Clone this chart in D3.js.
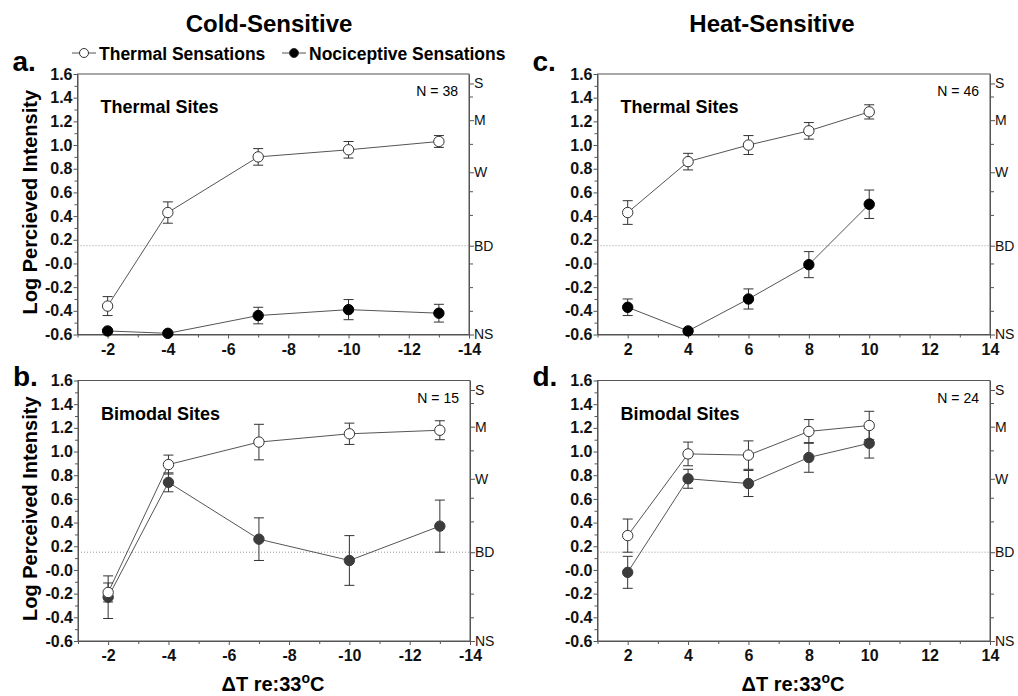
<!DOCTYPE html>
<html>
<head>
  <meta charset="utf-8">
  <title>Cold- and Heat-Sensitive Sites</title>
  <style>
    body { margin: 0; background: #fff; }
    svg { font-family: "Liberation Sans", Arial, sans-serif; }
    .axis path, .axis line { stroke: #555; }
    .axis text { font-size: 16px; font-weight: bold; fill: #111; }
    .raxis text { font-size: 14px; font-weight: normal; fill: #111; }
    .conn { fill: none; stroke: #555; stroke-width: 1; }
    .err { stroke: #333; stroke-width: 1; }
    .bd { stroke: #999; stroke-dasharray: 1,2; }
  </style>
</head>
<body>
  <script src="https://d3js.org/d3.v7.min.js"></script>
  <svg width="1018" height="696"></svg>
  <script>
    // data
    var xCold = [-2, -4, -7, -10, -13];
    var xHeat = [2, 4, 6, 8, 10];

    var aThermal = [-0.36, 0.43, 0.90, 0.96, 1.03];
    var aThermalSE = [0.08, 0.09, 0.07, 0.07, 0.05];
    var aNoci = [-0.57, -0.59, -0.44, -0.39, -0.42];
    var aNociSE = [0.01, 0.01, 0.07, 0.085, 0.075];

    var bThermal = [-0.19, 0.89, 1.08, 1.15, 1.18];
    var bThermalSE = [0.08, 0.08, 0.15, 0.09, 0.08];
    var bNoci = [-0.23, 0.74, 0.26, 0.08, 0.37];
    var bNociSE = [0.18, 0.08, 0.18, 0.21, 0.22];

    var cThermal = [0.43, 0.86, 1.00, 1.12, 1.28];
    var cThermalSE = [0.10, 0.07, 0.08, 0.07, 0.06];
    var cNoci = [-0.37, -0.57, -0.30, -0.01, 0.50];
    var cNociSE = [0.07, 0.01, 0.085, 0.11, 0.12];

    var dThermal = [0.29, 0.98, 0.97, 1.17, 1.22];
    var dThermalSE = [0.14, 0.10, 0.12, 0.10, 0.12];
    var dNoci = [-0.02, 0.77, 0.73, 0.95, 1.07];
    var dNociSE = [0.135, 0.08, 0.11, 0.125, 0.125];

    var yTicks = [1.6, 1.4, 1.2, 1.0, 0.8, 0.6, 0.4, 0.2, 0.0, -0.2, -0.4, -0.6];
    var yTickLabels = ["1.6", "1.4", "1.2", "1.0", "0.8", "0.6", "0.4", "0.2", "-0.0", "-0.2", "-0.4", "-0.6"];
    var coldTicks = [-2, -4, -6, -8, -10, -12, -14];
    var heatTicks = [2, 4, 6, 8, 10, 12, 14];
    var scaleLabels = ["S", "M", "W", "BD", "NS"];
    var scaleValues = [1.52, 1.21, 0.77, 0.15, -0.6];
    var scaleMinor = [1.41, 1.01, 0.61, 0.41, 0.0, -0.2, -0.4];

    var svg = d3.select("svg");

    var panels = [
      { letter: "a.", site: "Thermal Sites", n: "N = 38", ylab: "Log Percieved Intensity",
        xs: xCold, ticks: coldTicks, dom: [-1, -14], x0: 77.5, x1: 469, y0: 74, y1: 334.5,
        th: aThermal, thSE: aThermalSE, no: aNoci, noSE: aNociSE, noFill: "#000" },
      { letter: "b.", site: "Bimodal Sites", n: "N = 15", ylab: "Log Perceived Intensity",
        xs: xCold, ticks: coldTicks, dom: [-1, -14], x0: 78, x1: 470, y0: 380.5, y1: 641,
        th: bThermal, thSE: bThermalSE, no: bNoci, noSE: bNociSE, noFill: "#3c3c3c" },
      { letter: "c.", site: "Thermal Sites", n: "N = 46", ylab: null,
        xs: xHeat, ticks: heatTicks, dom: [1, 14], x0: 597.5, x1: 990, y0: 74, y1: 334.5,
        th: cThermal, thSE: cThermalSE, no: cNoci, noSE: cNociSE, noFill: "#000" },
      { letter: "d.", site: "Bimodal Sites", n: "N = 24", ylab: null,
        xs: xHeat, ticks: heatTicks, dom: [1, 14], x0: 597.5, x1: 990, y0: 380.5, y1: 641,
        th: dThermal, thSE: dThermalSE, no: dNoci, noSE: dNociSE, noFill: "#3c3c3c" }
    ];

    panels.forEach(function(p) {
      var x = d3.scaleLinear().domain(p.dom).range([p.x0, p.x1]);
      var y = d3.scaleLinear().domain([-0.6, 1.6]).range([p.y1, p.y0]);
      var g = svg.append("g");

      // frame
      g.append("rect")
          .attr("x", p.x0).attr("y", p.y0)
          .attr("width", p.x1 - p.x0).attr("height", p.y1 - p.y0)
          .attr("fill", "none").attr("stroke", "#555");

      // barely detectable reference line
      g.append("line").attr("class", "bd")
          .attr("x1", p.x0).attr("x2", p.x1)
          .attr("y1", y(0.15)).attr("y2", y(0.15));

      // minor ticks
      var yMinor = d3.range(-5, 16, 2).map(function(v) { return v / 10; });
      g.append("g").attr("class", "axis")
          .attr("transform", "translate(" + p.x0 + ",0)")
          .call(d3.axisLeft(y).tickValues(yMinor).tickSize(3).tickFormat("").tickSizeOuter(0))
          .select(".domain").remove();
      var xMinor = p.ticks.map(function(t) { return t > 0 ? t - 1 : t + 1; });
      g.append("g").attr("class", "axis")
          .attr("transform", "translate(0," + p.y1 + ")")
          .call(d3.axisBottom(x).tickValues(xMinor).tickSize(3).tickFormat("").tickSizeOuter(0))
          .select(".domain").remove();
      g.append("g").attr("class", "axis")
          .attr("transform", "translate(" + p.x1 + ",0)")
          .call(d3.axisRight(y).tickValues(scaleMinor).tickSize(4).tickFormat("").tickSizeOuter(0))
          .select(".domain").remove();

      // main axes
      g.append("g").attr("class", "axis")
          .attr("transform", "translate(" + p.x0 + ",0)")
          .call(d3.axisLeft(y).tickValues(yTicks).tickSize(4).tickPadding(1).tickSizeOuter(0)
                .tickFormat(function(d, i) { return yTickLabels[i]; }));
      g.append("g").attr("class", "axis")
          .attr("transform", "translate(0," + p.y1 + ")")
          .call(d3.axisBottom(x).tickValues(p.ticks).tickSize(4).tickPadding(5).tickSizeOuter(0)
                .tickFormat(function(d) { return String(d); }));
      g.append("g").attr("class", "axis raxis")
          .attr("transform", "translate(" + p.x1 + ",0)")
          .call(d3.axisRight(y).tickValues(scaleValues).tickSize(5).tickPadding(0).tickSizeOuter(0)
                .tickFormat(function(d, i) { return scaleLabels[i]; }));

      var line = d3.line()
          .x(function(d) { return x(d[0]); })
          .y(function(d) { return y(d[1]); });

      function series(vals, se, fill, stroke) {
        var pts = p.xs.map(function(xv, i) { return [xv, vals[i], se[i]]; });
        g.append("path").attr("class", "conn").attr("d", line(pts));
        var eb = g.append("g");
        pts.forEach(function(d) {
          var cx = x(d[0]), lo = y(d[1] - d[2]), hi = y(d[1] + d[2]);
          eb.append("line").attr("class", "err").attr("x1", cx).attr("x2", cx).attr("y1", lo).attr("y2", hi);
          eb.append("line").attr("class", "err").attr("x1", cx - 5).attr("x2", cx + 5).attr("y1", lo).attr("y2", lo);
          eb.append("line").attr("class", "err").attr("x1", cx - 5).attr("x2", cx + 5).attr("y1", hi).attr("y2", hi);
        });
        g.selectAll(null).data(pts).enter().append("circle")
            .attr("cx", function(d) { return x(d[0]); })
            .attr("cy", function(d) { return y(d[1]); })
            .attr("r", 5.2)
            .attr("fill", fill)
            .attr("stroke", stroke)
            .attr("stroke-width", 1);
      }
      series(p.no, p.noSE, p.noFill, p.noFill);
      series(p.th, p.thSE, "#fff", "#333");

      // texts
      g.append("text").attr("x", p.x0 + 23).attr("y", p.y0 + 39)
          .attr("font-size", 18).attr("font-weight", "bold").text(p.site);
      g.append("text").attr("x", p.x1 - 11).attr("y", p.y0 + 22)
          .attr("font-size", 14).attr("text-anchor", "end").text(p.n);
      g.append("text").attr("x", p.x0 - 65).attr("y", p.y0 - 3 + (p.y0 > 200 ? 8 : 0))
          .attr("font-size", 28).attr("font-weight", "bold").text(p.letter);
      if (p.ylab) {
        g.append("text")
            .attr("transform", "translate(37," + ((p.y0 + p.y1) / 2 - 2) + ") rotate(-90)")
            .attr("text-anchor", "middle")
            .attr("font-size", 20).attr("font-weight", "bold").text(p.ylab);
      }
    });

    // column titles
    svg.append("text").attr("x", 269).attr("y", 32).attr("text-anchor", "middle")
        .attr("font-size", 24).attr("font-weight", "bold").text("Cold-Sensitive");
    svg.append("text").attr("x", 772).attr("y", 32).attr("text-anchor", "middle")
        .attr("font-size", 24).attr("font-weight", "bold").text("Heat-Sensitive");

    // x titles
    [273, 793].forEach(function(cx) {
      var t = svg.append("text").attr("x", cx).attr("y", 691).attr("text-anchor", "middle")
          .attr("font-size", 20).attr("font-weight", "bold");
      t.append("tspan").text("\u0394T re:33");
      t.append("tspan").attr("font-size", 14).attr("dy", -8).text("o");
      t.append("tspan").attr("dy", 8).text("C");
    });

    // legend
    var legend = [
      { label: "Thermal Sensations", fill: "#fff", x: 72 },
      { label: "Nociceptive Sensations", fill: "#000", x: 282 }
    ];
    legend.forEach(function(l) {
      svg.append("line").attr("x1", l.x).attr("x2", l.x + 24).attr("y1", 53).attr("y2", 53)
          .attr("stroke", "#555");
      svg.append("circle").attr("cx", l.x + 12).attr("cy", 53).attr("r", 4.5)
          .attr("fill", l.fill).attr("stroke", "#333");
      svg.append("text").attr("x", l.x + 27).attr("y", 60)
          .attr("font-size", 17.5).attr("font-weight", "bold").text(l.label);
    });
  </script>
</body>
</html>
